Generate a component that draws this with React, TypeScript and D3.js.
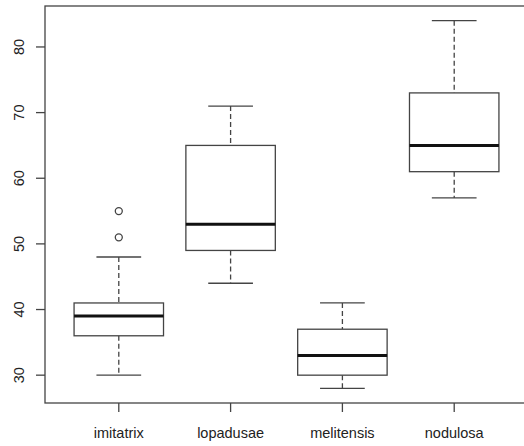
import * as d3 from 'd3';
import { useEffect, useRef } from 'react';

const species = ['imitatrix', 'lopadusae', 'melitensis', 'nodulosa'];
const lowerWhisker = [30, 44, 28, 57];
const lowerQuartile = [36, 49, 30, 61];
const medians = [39, 53, 33, 65];
const upperQuartile = [41, 65, 37, 73];
const upperWhisker = [48, 71, 41, 84];
const outliers = [[51, 55], [], [], []];
const yTicks = [30, 40, 50, 60, 70, 80];

export default function App() {
  const ref = useRef<SVGSVGElement | null>(null);

  useEffect(() => {
    const svg = d3.select(ref.current);
    svg.selectAll('*').remove();

    const left = 45, right = 528, top = 6, bottom = 403;
    const stroke = '#444';
    const font = 'Liberation Sans, Arial, sans-serif';

    const x = d3.scaleLinear().domain([0.34, 4.66]).range([left, right]);
    const y = d3.scaleLinear().domain([25.76, 86.24]).range([bottom, top]);
    const half = x(1.4) - x(1); // R boxwex 0.8 -> half width 0.4
    const cap = half / 2;

    // plot frame
    svg.append('rect')
      .attr('x', left).attr('y', top)
      .attr('width', right - left).attr('height', bottom - top)
      .attr('fill', 'none').attr('stroke', stroke).attr('stroke-width', 1.3);

    // y axis
    const ya = svg.append('g');
    ya.selectAll('line').data(yTicks).enter().append('line')
      .attr('x1', left - 9).attr('x2', left)
      .attr('y1', d => y(d)).attr('y2', d => y(d))
      .attr('stroke', stroke).attr('stroke-width', 1.3);
    ya.selectAll('text').data(yTicks).enter().append('text')
      .attr('transform', d => `translate(24,${y(d)}) rotate(-90)`)
      .attr('text-anchor', 'middle')
      .attr('font-family', font).attr('font-size', 14.5).attr('fill', '#222')
      .text(d => d);

    // x axis
    const xa = svg.append('g');
    xa.selectAll('line').data(species).enter().append('line')
      .attr('x1', (_, i) => x(i + 1)).attr('x2', (_, i) => x(i + 1))
      .attr('y1', bottom).attr('y2', bottom + 9)
      .attr('stroke', stroke).attr('stroke-width', 1.3);
    xa.selectAll('text').data(species).enter().append('text')
      .attr('x', (_, i) => x(i + 1)).attr('y', 438)
      .attr('text-anchor', 'middle')
      .attr('font-family', font).attr('font-size', 14.5).attr('fill', '#222')
      .text(d => d);

    // boxes
    species.forEach((_, i) => {
      const cx = x(i + 1);
      const g = svg.append('g');
      g.append('line').attr('x1', cx).attr('x2', cx)
        .attr('y1', y(upperWhisker[i])).attr('y2', y(upperQuartile[i]))
        .attr('stroke', stroke).attr('stroke-width', 1.3).attr('stroke-dasharray', '5,3');
      g.append('line').attr('x1', cx).attr('x2', cx)
        .attr('y1', y(lowerQuartile[i])).attr('y2', y(lowerWhisker[i]))
        .attr('stroke', stroke).attr('stroke-width', 1.3).attr('stroke-dasharray', '5,3');
      [upperWhisker[i], lowerWhisker[i]].forEach(v => {
        g.append('line').attr('x1', cx - cap).attr('x2', cx + cap)
          .attr('y1', y(v)).attr('y2', y(v))
          .attr('stroke', stroke).attr('stroke-width', 1.3);
      });
      g.append('rect')
        .attr('x', cx - half).attr('y', y(upperQuartile[i]))
        .attr('width', half * 2).attr('height', y(lowerQuartile[i]) - y(upperQuartile[i]))
        .attr('fill', 'white').attr('stroke', stroke).attr('stroke-width', 1.3);
      g.append('line').attr('x1', cx - half).attr('x2', cx + half)
        .attr('y1', y(medians[i])).attr('y2', y(medians[i]))
        .attr('stroke', '#111').attr('stroke-width', 3);
      g.selectAll('circle').data(outliers[i]).enter().append('circle')
        .attr('cx', cx).attr('cy', d => y(d)).attr('r', 3.5)
        .attr('fill', 'none').attr('stroke', stroke).attr('stroke-width', 1.3);
    });
  }, []);

  return (
    <svg ref={ref} width={524} height={446}
      style={{ position: 'absolute', left: 0, top: 0, background: 'white' }} />
  );
}
